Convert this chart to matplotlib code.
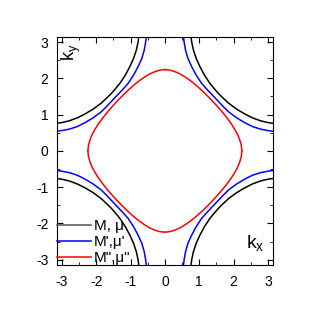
import numpy as np
import matplotlib.pyplot as plt
from matplotlib.lines import Line2D

plt.rcParams['font.family'] = ['Liberation Sans', 'DejaVu Sans']
plt.rcParams['mathtext.fontset'] = 'custom'
plt.rcParams['mathtext.rm'] = 'Liberation Sans'
plt.rcParams['mathtext.it'] = 'Liberation Sans'
plt.rcParams['axes.unicode_minus'] = False

# Fermi contours, upper-right quadrant (kx>0, ky>0);
# the other quadrants are mirror images
black_kx = [0.76, 0.78, 0.83, 0.91, 1.02, 1.15, 1.31, 1.45, 1.57, 1.70, 1.86,
            2.09, 2.32, 2.55, 2.78, 3.0, 3.15]
black_ky = [3.15, 3.0, 2.78, 2.55, 2.32, 2.09, 1.86, 1.70, 1.57, 1.45, 1.31,
            1.15, 1.02, 0.91, 0.83, 0.78, 0.76]

blue_kx = [0.54, 0.56, 0.60, 0.67, 0.78, 0.91, 1.07, 1.21, 1.34, 1.46, 1.58,
           1.71, 1.86, 2.09, 2.32, 2.55, 2.78, 3.0, 3.15]
blue_ky = [3.15, 3.0, 2.78, 2.55, 2.32, 2.09, 1.86, 1.71, 1.58, 1.46, 1.34,
           1.21, 1.07, 0.91, 0.78, 0.67, 0.60, 0.56, 0.54]

red_kx = [0.0, 0.15, 0.3, 0.45, 0.6, 0.75, 0.9, 1.05, 1.2, 1.38, 1.553, 1.689,
          1.815, 1.93, 2.03, 2.118, 2.18, 2.225, 2.24]
red_ky = [2.24, 2.225, 2.18, 2.118, 2.03, 1.93, 1.815, 1.689, 1.553, 1.38, 1.2,
          1.05, 0.9, 0.75, 0.6, 0.45, 0.3, 0.15, 0.0]

labels = ['M, \u03bc', "M',\u03bc'", 'M",\u03bc"']
colors = ['black', 'blue', 'red']
legend_colors = ['#555555', 'blue', 'red']

fig = plt.figure(figsize=(3.18, 3.18), dpi=100)
ax = fig.add_axes([0.179, 0.167, 0.679, 0.717])

curves = [(black_kx, black_ky), (blue_kx, blue_ky), (red_kx, red_ky)]
for (kx, ky), c in zip(curves, colors):
    kx = np.array(kx)
    ky = np.array(ky)
    for sx in (1, -1):
        for sy in (1, -1):
            ax.plot(sx * kx, sy * ky, color=c, lw=1.1)

ax.set_xlim(-np.pi, np.pi)
ax.set_ylim(-np.pi, np.pi)
ax.set_xticks([-3, -2, -1, 0, 1, 2, 3])
ax.set_yticks([-3, -2, -1, 0, 1, 2, 3])
ax.set_xticks(np.arange(-2.5, 3.0, 1.0), minor=True)
ax.set_yticks(np.arange(-2.5, 3.0, 1.0), minor=True)
ax.tick_params(which='both', direction='in', top=True, right=True, labelsize=10)
ax.tick_params(axis='x', which='major', length=4, pad=7)
ax.tick_params(axis='y', which='major', length=4, pad=6)
ax.tick_params(which='minor', length=2)

ax.text(-2.72, 2.72, r'k$_\mathregular{y}$', rotation=90, fontsize=13,
        ha='center', va='center')
ax.text(2.62, -2.55, r'k$_\mathregular{x}$', fontsize=14,
        ha='center', va='center')

handles = [Line2D([], [], color=c, lw=1.1) for c in legend_colors]
ax.legend(handles, labels, loc='lower left', frameon=False, fontsize=11,
          handlelength=2.2, handletextpad=0.2, labelspacing=0.12,
          borderaxespad=0.0, borderpad=0.0)

fig.savefig('out.png', dpi=100)
